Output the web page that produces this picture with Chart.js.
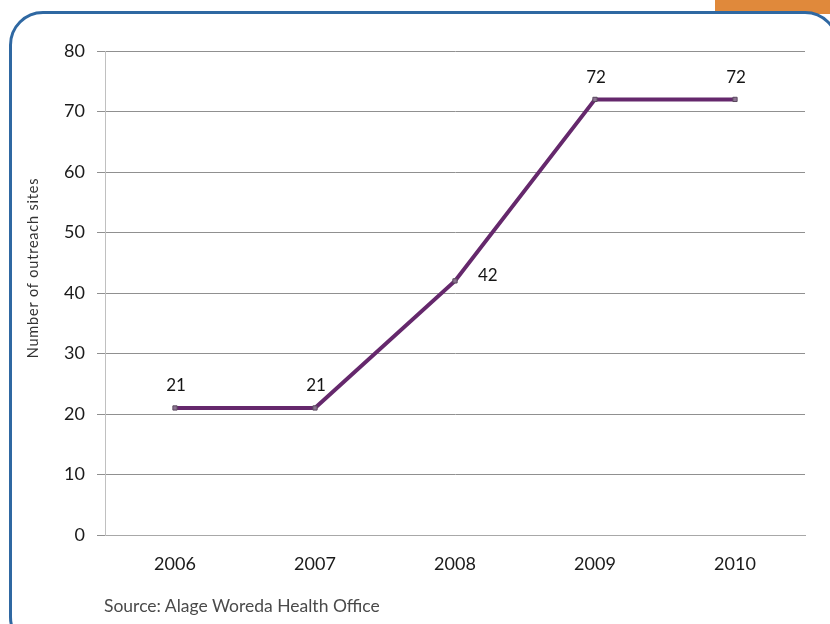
<!DOCTYPE html>
<html>
<head>
<meta charset="utf-8">
<title>Outreach sites</title>
<script src="https://cdn.jsdelivr.net/npm/chart.js@4.4.0/dist/chart.umd.min.js"></script>
<style>
  html, body { margin: 0; padding: 0; background: #fff; overflow: hidden; }
  #page { position: relative; width: 830px; height: 624px; overflow: hidden; }
  .tab { position: absolute; left: 715px; top: 0; width: 115px; height: 14px; background: #e0893b; }
  .frame {
    position: absolute; left: 9px; top: 11px; width: 830px; height: 640px;
    border: 3px solid #2f68a2; border-radius: 34px; background: #fff; box-sizing: border-box;
  }
  canvas { position: absolute; left: 0; top: 0; }
  .source {
    position: absolute; left: 104px; top: 595px;
    font-family: Lato, "Open Sans", sans-serif; font-size: 17.5px; color: #4a4a4a;
  }
</style>
</head>
<body>
<div id="page">
  <div class="tab"></div>
  <div class="frame"></div>
  <canvas id="chart" width="830" height="624"></canvas>
  <div class="source">Source: Alage Woreda Health Office</div>
</div>
<script>
const years = ["2006", "2007", "2008", "2009", "2010"];
const sites = [21, 21, 42, 72, 72];
const yTicks = [0, 10, 20, 30, 40, 50, 60, 70, 80];
const yTitle = "Number of outreach sites";

const fontFamily = "Lato, 'Open Sans', sans-serif";

// value labels above each point; a point on a rising stretch gets its label to the right
const valueLabels = {
  id: "valueLabels",
  afterDatasetsDraw(chart) {
    const ctx = chart.ctx;
    const meta = chart.getDatasetMeta(0);
    const vals = chart.data.datasets[0].data;
    ctx.save();
    ctx.font = "17px " + fontFamily;
    ctx.fillStyle = "#151515";
    ctx.textBaseline = "middle";
    meta.data.forEach((pt, i) => {
      const prev = vals[i - 1], next = vals[i + 1];
      if (prev !== undefined && next !== undefined && prev < vals[i] && vals[i] < next) {
        ctx.textAlign = "left";
        ctx.fillText(vals[i], pt.x + 23, pt.y - 5);
      } else {
        ctx.textAlign = "center";
        ctx.fillText(vals[i], pt.x + 1, pt.y - 22);
      }
    });
    ctx.restore();
  }
};

// rotated y axis title, set a little above the middle of the axis
const axisTitle = {
  id: "axisTitle",
  afterDraw(chart) {
    const ctx = chart.ctx;
    const area = chart.chartArea;
    ctx.save();
    ctx.translate(33, (area.top + area.bottom) / 2 - 25);
    ctx.rotate(-Math.PI / 2);
    ctx.font = "14.5px " + fontFamily;
    ctx.letterSpacing = "0.8px";
    ctx.fillStyle = "#333";
    ctx.textAlign = "center";
    ctx.textBaseline = "middle";
    ctx.fillText(yTitle, 0, 0);
    ctx.restore();
  }
};

new Chart(document.getElementById("chart"), {
  type: "line",
  data: {
    labels: years,
    datasets: [{
      data: sites,
      borderColor: "#65286c",
      borderWidth: 4,
      tension: 0,
      pointStyle: "rect",
      pointRadius: 3,
      pointBackgroundColor: "#8d7393",
      pointBorderColor: "#5a4a5e",
      pointBorderWidth: 1
    }]
  },
  options: {
    responsive: false,
    animation: false,
    layout: { padding: { left: 0, right: 25, top: 51, bottom: 39 } },
    plugins: {
      legend: { display: false },
      tooltip: { enabled: false }
    },
    scales: {
      x: {
        offset: true,
        grid: { drawOnChartArea: false, drawTicks: false, offset: true },
        border: { color: "#a8a8a8", width: 1 },
        ticks: {
          padding: 18,
          color: "#1a1a1a",
          font: { family: fontFamily, size: 18 }
        },
        afterFit(scale) { scale.height = 50; }
      },
      y: {
        min: 0,
        max: 80,
        grid: { color: "#909090", tickLength: 8, lineWidth: 1 },
        border: { color: "#c0c0c0", width: 1 },
        afterBuildTicks(scale) { scale.ticks = yTicks.map(v => ({ value: v })); },
        ticks: {
          padding: 12,
          color: "#1a1a1a",
          font: { family: fontFamily, size: 18 }
        },
        afterFit(scale) { scale.width = 105; }
      }
    }
  },
  plugins: [valueLabels, axisTitle]
});
</script>
</body>
</html>
